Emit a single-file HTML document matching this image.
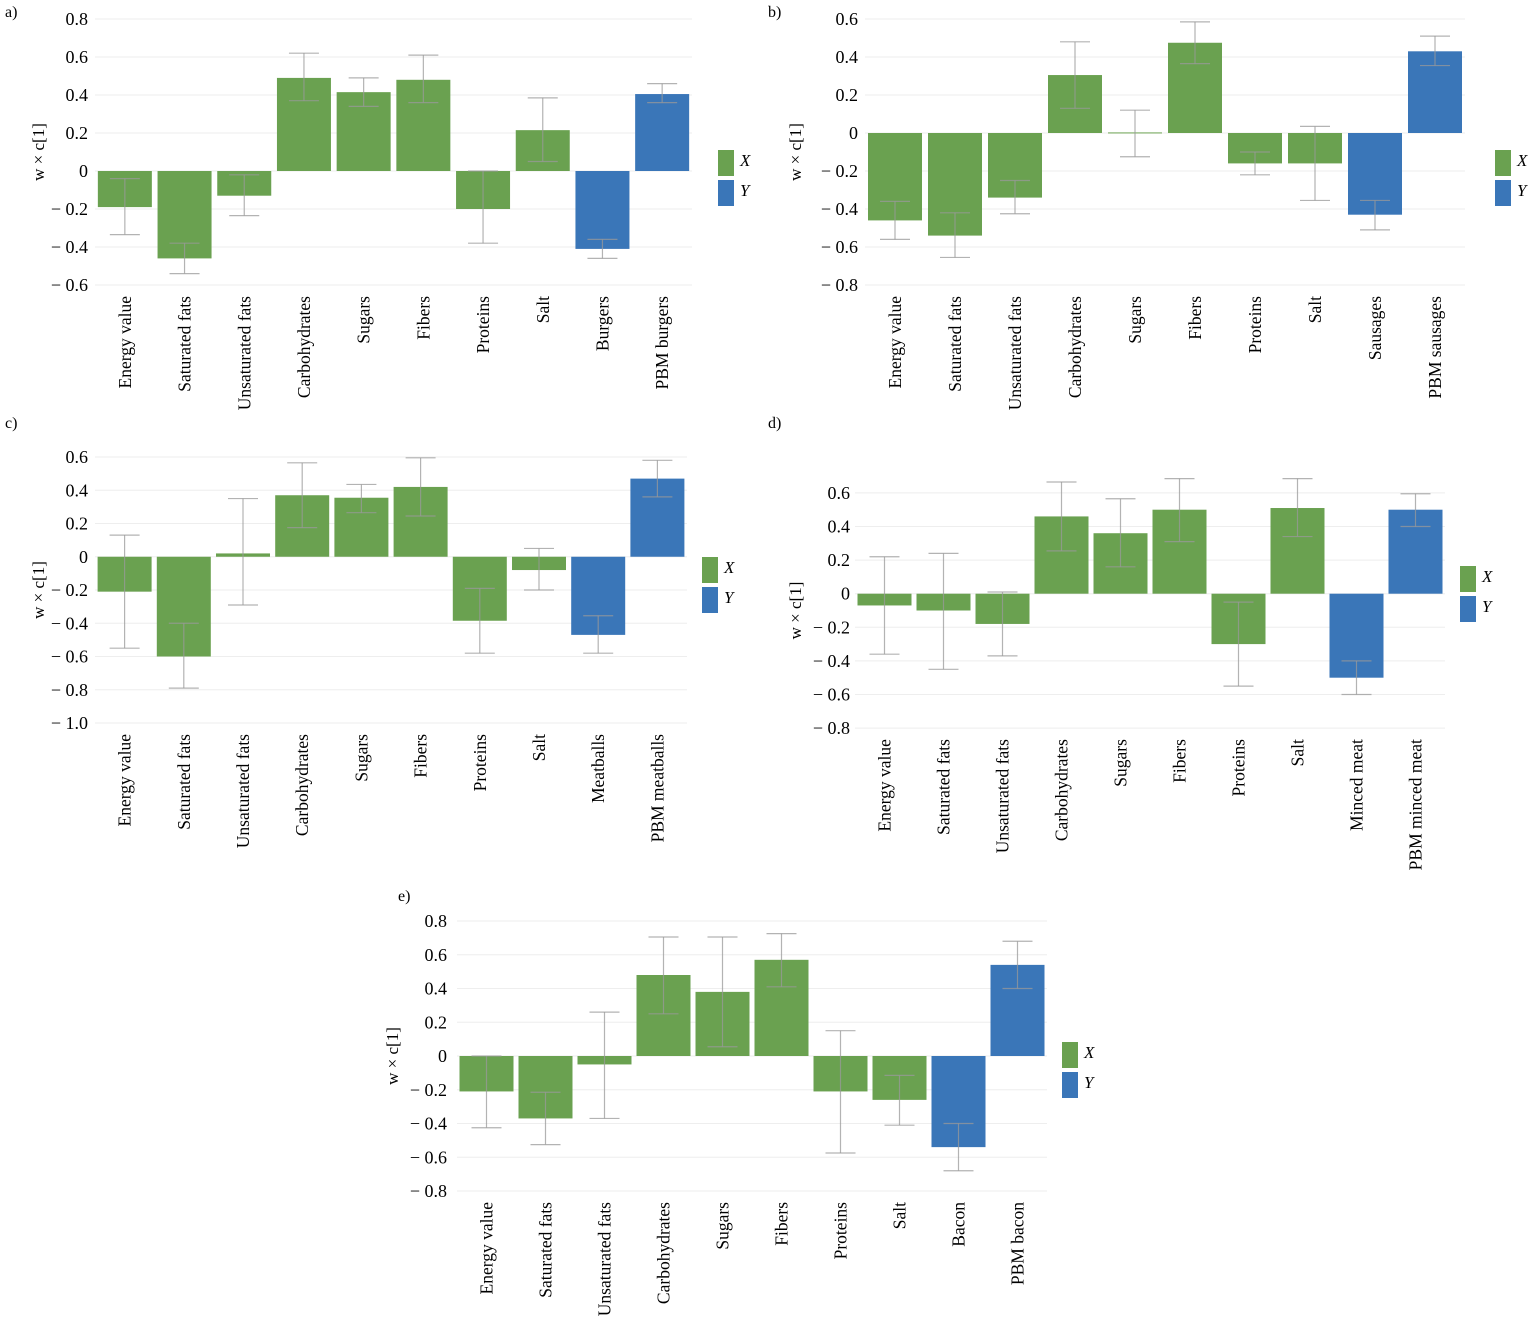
<!DOCTYPE html>
<html><head><meta charset="utf-8"><style>
html,body{margin:0;padding:0;background:#fff;}
svg{display:block;font-family:"Liberation Serif",serif;}
</style></head><body>
<svg id="s" width="1535" height="1328" xmlns="http://www.w3.org/2000/svg"></svg>
<script>
const G="#6aa150",B="#3a76b8";
const base=["Energy value","Saturated fats","Unsaturated fats","Carbohydrates","Sugars","Fibers","Proteins","Salt"];
const P=[
{L:"a)",lx:5,ly:17,x0:95,x1:692,slot:59.7,zero:171,top:0.8,bot:-0.6,step:38,tx:88,yt:38,lgx:718,lgy:150,
 names:["Burgers","PBM burgers"],
 v:[[-0.19,-0.04,-0.335],[-0.46,-0.38,-0.54],[-0.13,-0.02,-0.235],[0.49,0.37,0.62],[0.415,0.34,0.49],[0.48,0.36,0.61],[-0.2,0,-0.38],[0.215,0.05,0.385],[-0.41,-0.36,-0.46],[0.405,0.36,0.46]]},
{L:"b)",lx:768,ly:17,x0:865,x1:1465,slot:60,zero:133,top:0.6,bot:-0.8,step:38,tx:858,yt:795,lgx:1495,lgy:150,
 names:["Sausages","PBM sausages"],
 v:[[-0.46,-0.36,-0.56],[-0.54,-0.42,-0.655],[-0.34,-0.25,-0.425],[0.305,0.13,0.48],[0.003,0.12,-0.125],[0.475,0.365,0.585],[-0.16,-0.1,-0.22],[-0.16,0.035,-0.355],[-0.43,-0.355,-0.51],[0.43,0.355,0.51]]},
{L:"c)",lx:5,ly:428,x0:95,x1:687,slot:59.2,zero:556.75,top:0.6,bot:-1.0,step:33.25,tx:88,yt:38,lgx:702,lgy:557,
 names:["Meatballs","PBM meatballs"],
 v:[[-0.21,0.13,-0.55],[-0.6,-0.4,-0.79],[0.02,0.35,-0.29],[0.37,0.175,0.565],[0.355,0.265,0.435],[0.42,0.245,0.595],[-0.385,-0.19,-0.58],[-0.08,0.05,-0.2],[-0.47,-0.355,-0.58],[0.47,0.36,0.58]]},
{L:"d)",lx:768,ly:428,x0:855,x1:1445,slot:59,zero:593.7,top:0.6,bot:-0.8,step:33.6,tx:850,yt:795,lgx:1460,lgy:566,
 names:["Minced meat","PBM minced meat"],
 v:[[-0.07,0.22,-0.36],[-0.1,0.24,-0.45],[-0.18,0.01,-0.37],[0.46,0.255,0.665],[0.36,0.16,0.565],[0.5,0.31,0.685],[-0.3,-0.05,-0.55],[0.51,0.34,0.685],[-0.5,-0.4,-0.6],[0.5,0.4,0.595]]},
{L:"e)",lx:398,ly:901,x0:457,x1:1047,slot:59,zero:1056,top:0.8,bot:-0.8,step:33.75,tx:447,yt:392,lgx:1062,lgy:1042,
 names:["Bacon","PBM bacon"],
 v:[[-0.21,0,-0.425],[-0.37,-0.215,-0.525],[-0.05,0.26,-0.37],[0.48,0.25,0.705],[0.38,0.055,0.705],[0.57,0.41,0.725],[-0.21,0.15,-0.575],[-0.26,-0.115,-0.41],[-0.54,-0.4,-0.68],[0.54,0.4,0.68]]}
];
let h="";
for(const p of P){
 const k=p.step/0.2, Y=v=>p.zero-v*k;
 h+=`<text x="${p.lx}" y="${p.ly}" font-size="16">${p.L}</text>`;
 const n=Math.round((p.top-p.bot)/0.2);
 for(let i=0;i<=n;i++){const v=+(p.top-i*0.2).toFixed(1);const y=Y(v);
  h+=`<line x1="${p.x0}" x2="${p.x1}" y1="${y}" y2="${y}" stroke="#eeeeee" stroke-width="1"/>`;
  let t=v===0?"0":(v<0?"− "+Math.abs(v).toFixed(1):v.toFixed(1));
  h+=`<text x="${p.tx}" y="${y+6}" font-size="18" text-anchor="end">${t}</text>`;}
 h+=`<text transform="translate(${p.yt+6},${Y((p.top+p.bot)/2)}) rotate(-90)" font-size="17" text-anchor="middle">w × c[1]</text>`;
 const names=base.concat(p.names), bot=Y(p.bot);
 p.v.forEach((d,i)=>{const cx=p.x0+p.slot*(i+0.5);const w=54;
  const y0=Y(Math.max(0,d[0])),y1=Y(Math.min(0,d[0]));
  h+=`<rect x="${cx-w/2}" y="${y0}" width="${w}" height="${Math.max(1,y1-y0)}" fill="${i<8?G:B}"/>`;
  const a=Y(d[1]),b=Y(d[2]);
  h+=`<g stroke="#999" stroke-opacity="0.75" stroke-width="1.2"><line x1="${cx}" x2="${cx}" y1="${a}" y2="${b}"/><line x1="${cx-15}" x2="${cx+15}" y1="${a}" y2="${a}"/><line x1="${cx-15}" x2="${cx+15}" y1="${b}" y2="${b}"/></g>`;
  h+=`<text transform="translate(${cx+6},${bot+11}) rotate(-90)" font-size="17.5" text-anchor="end">${names[i]}</text>`;});
 h+=`<rect x="${p.lgx}" y="${p.lgy}" width="16" height="26" fill="${G}"/><text x="${p.lgx+22}" y="${p.lgy+16}" font-size="17" font-style="italic">X</text>`;
 h+=`<rect x="${p.lgx}" y="${p.lgy+30}" width="16" height="26" fill="${B}"/><text x="${p.lgx+22}" y="${p.lgy+46}" font-size="17" font-style="italic">Y</text>`;
}
document.getElementById("s").innerHTML=h;
</script>
</body></html>
